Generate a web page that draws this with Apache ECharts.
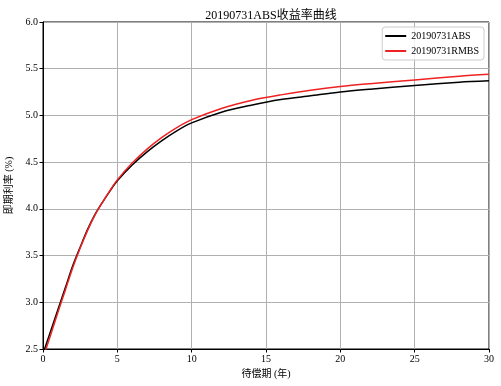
<!DOCTYPE html>
<html>
<head>
<meta charset="utf-8">
<script src="https://cdn.jsdelivr.net/npm/echarts@6/dist/echarts.min.js"></script>
<style>
html,body{margin:0;padding:0;background:#fff;}
#chart{width:501px;height:386px;}
</style>
</head>
<body>
<div id="chart"></div>
<script>
var maturities = [0, 0.5, 1, 1.5, 2, 2.5, 3, 3.5, 4, 4.5, 5, 6, 7, 8, 9, 10, 12, 14, 16, 18, 20, 22, 25, 28, 30];
var absRates   = [2.45, 2.685, 2.92, 3.155, 3.39, 3.59, 3.78, 3.94, 4.07, 4.19, 4.30, 4.47, 4.61, 4.73, 4.835, 4.92, 5.035, 5.11, 5.17, 5.21, 5.25, 5.28, 5.32, 5.355, 5.37];
var rmbsRates  = [2.40, 2.645, 2.89, 3.13, 3.37, 3.58, 3.77, 3.935, 4.07, 4.195, 4.31, 4.49, 4.64, 4.765, 4.87, 4.955, 5.075, 5.16, 5.22, 5.27, 5.31, 5.34, 5.38, 5.42, 5.44];
var seriesNames = ['20190731ABS', '20190731RMBS'];
var titleText = '20190731ABS收益率曲线';
var xName = '待偿期 (年)';
var yName = '即期利率 (%)';

function pairs(xs, ys) { return xs.map(function (x, i) { return [x, ys[i]]; }); }

var FONT = '"Liberation Serif", "DejaVu Serif", "Noto Sans CJK SC", serif';
var chart = echarts.init(document.getElementById('chart'), null, {renderer: 'canvas'});
chart.setOption({
  animation: false,
  backgroundColor: '#fff',
  title: {
    text: titleText,
    left: 266, top: 5, textAlign: 'center',
    textStyle: {fontFamily: FONT, fontSize: 12, fontWeight: 'normal', color: '#000'}
  },
  legend: {
    orient: 'vertical',
    right: 17, top: 27,
    padding: [4, 5, 4, 3],
    itemGap: 5,
    itemWidth: 21, itemHeight: 2,
    icon: 'rect',
    borderColor: '#cccccc', borderWidth: 1, borderRadius: 3,
    backgroundColor: 'rgba(255,255,255,0.8)',
    textStyle: {fontFamily: FONT, fontSize: 10, color: '#000'},
    data: seriesNames
  },
  grid: {
    left: 43, right: 12, top: 22, bottom: 37,
    containLabel: false, outerBoundsMode: 'none',
    show: true, borderColor: '#000', borderWidth: 1
  },
  xAxis: {
    type: 'value', min: 0, max: 30, interval: 5,
    name: xName, nameLocation: 'middle', nameGap: 19,
    nameTextStyle: {fontFamily: FONT, fontSize: 10, color: '#000'},
    axisLine: {show: true, lineStyle: {color: '#000'}},
    axisTick: {show: true, length: 3.5, lineStyle: {color: '#000'}},
    axisLabel: {fontFamily: FONT, fontSize: 10, color: '#000', margin: 5},
    splitLine: {show: true, lineStyle: {color: '#b0b0b0', width: 1}}
  },
  yAxis: {
    type: 'value', min: 2.5, max: 6, interval: 0.5,
    name: yName, nameLocation: 'middle', nameGap: 27, nameRotate: 90,
    nameTextStyle: {fontFamily: FONT, fontSize: 10, color: '#000'},
    axisLine: {show: true, lineStyle: {color: '#000'}},
    axisTick: {show: true, length: 3.5, lineStyle: {color: '#000'}},
    axisLabel: {fontFamily: FONT, fontSize: 10, color: '#000', margin: 5,
      formatter: function (v) { return v.toFixed(1); }},
    splitLine: {show: true, lineStyle: {color: '#b0b0b0', width: 1}}
  },
  series: [
    {name: seriesNames[0], type: 'line', data: pairs(maturities, absRates),
     showSymbol: false, symbol: 'none', smooth: 0.3, clip: true,
     lineStyle: {color: '#000', width: 1.5}, itemStyle: {color: '#000'}},
    {name: seriesNames[1], type: 'line', data: pairs(maturities, rmbsRates),
     showSymbol: false, symbol: 'none', smooth: 0.3, clip: true,
     lineStyle: {color: '#ee2222', width: 1.5}, itemStyle: {color: '#ee2222'}}
  ]
});
</script>
</body>
</html>
